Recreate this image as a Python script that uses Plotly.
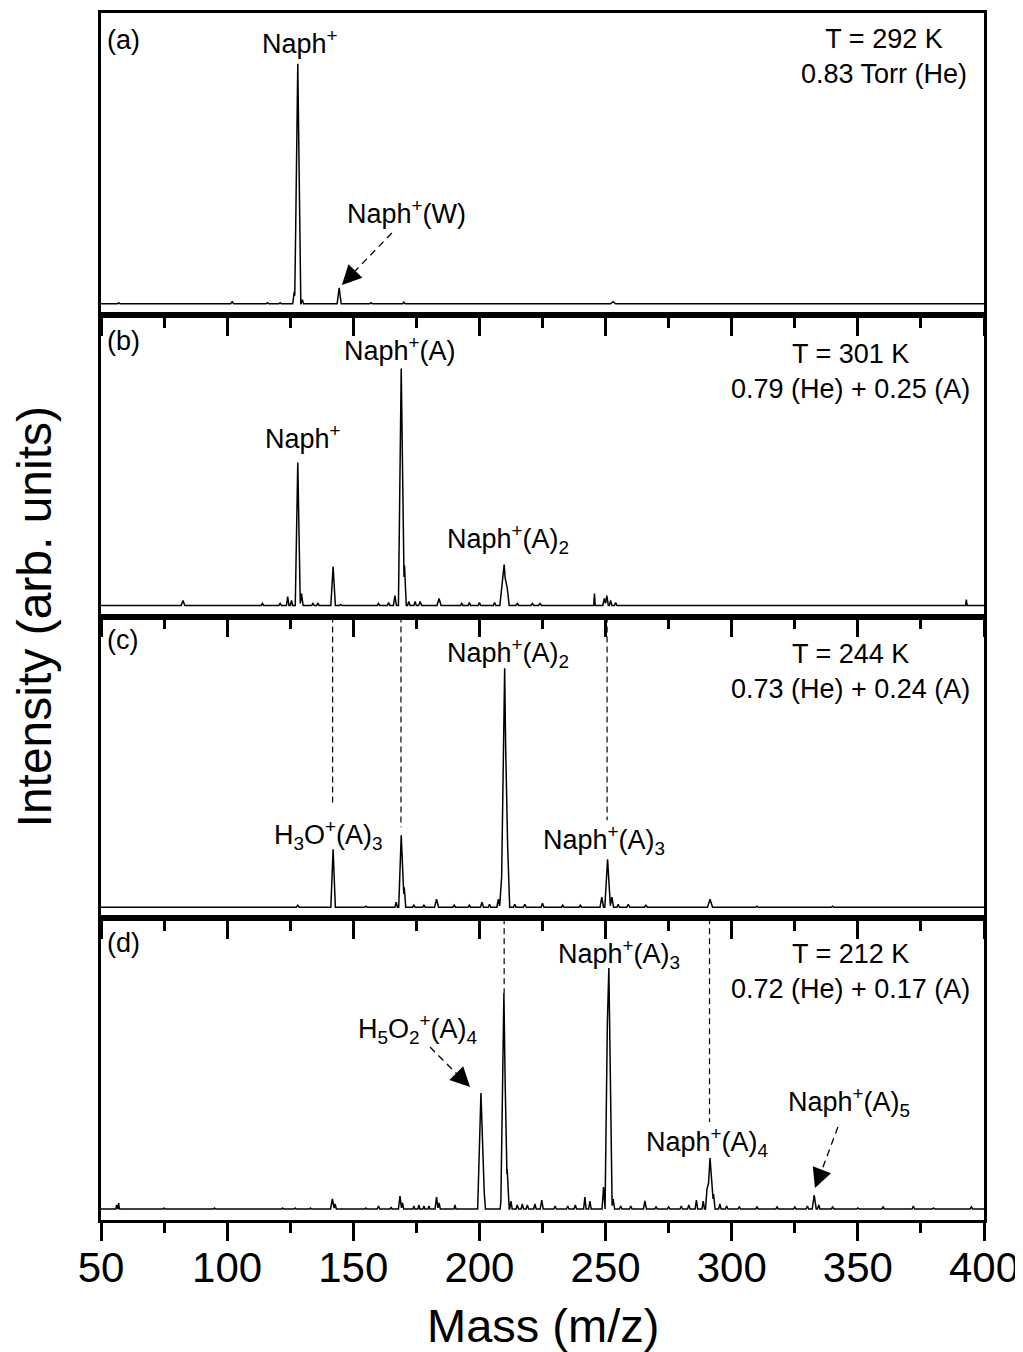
import plotly.graph_objects as go
from plotly.subplots import make_subplots

# ---------------- data ----------------
# peak centres (m/z), peak heights (arb. units), half-widths (m/z)
mz_a = [57, 102, 116, 121, 126.6, 128.0, 129.8, 144.4, 157, 170, 253]
int_a = [1, 2, 1, 1, 12, 240, 4, 16, 1, 1.5, 2]
hw_a = [0.5, 0.6, 0.5, 0.5, 0.6, 1.2, 0.5, 0.8, 0.5, 0.5, 1.0]

mz_b = [82.5, 114, 121, 124, 125.5, 128.0, 129.5, 134, 136, 142.0, 145, 160, 164,
        166.5, 169.0, 170.3, 172, 174.5, 176.5, 184, 193, 196, 200, 206, 208.8,
        209.8, 211.0, 215, 221, 224, 245.6, 249.5, 250.5, 252, 254, 393]
int_b = [5, 2, 2, 9, 5, 143, 12, 2, 2, 39, 1, 2, 3,
         10, 237, 40, 4, 4, 4, 7, 2, 3, 3, 3, 15,
         41, 18, 2, 2, 2, 12, 7, 10, 5, 3, 6]
hw_b = [0.7, 0.5, 0.5, 0.5, 0.5, 1.0, 0.6, 0.5, 0.5, 0.9, 0.5, 0.5, 0.5,
        0.6, 1.1, 0.7, 0.5, 0.5, 0.6, 0.8, 0.5, 0.5, 0.5, 0.5, 0.7,
        1.2, 0.8, 0.6, 0.6, 0.6, 0.3, 0.6, 0.6, 0.5, 0.5, 0.3]

mz_c = [128, 142.0, 155, 167, 169.0, 170.2, 174, 178, 183, 190, 196, 201, 204,
        207.5, 208.8, 210.0, 211.2, 214, 218, 225, 233, 240, 248.5, 250.8, 252.5,
        255, 259, 266, 291.4, 310, 340]
int_c = [2, 58, 1, 5, 72, 20, 2, 2, 8, 2, 2, 5, 3,
         8, 30, 239, 60, 3, 3, 4, 2, 2, 10, 48, 10,
         3, 3, 2, 8, 1, 1]
hw_c = [0.6, 0.9, 0.5, 0.5, 1.0, 0.6, 0.5, 0.5, 0.8, 0.5, 0.5, 0.6, 0.5,
        0.6, 0.8, 1.2, 0.8, 0.5, 0.6, 0.6, 0.5, 0.5, 0.7, 1.1, 0.7,
        0.5, 0.6, 0.6, 1.0, 0.5, 0.5]

mz_d = [56.2, 57, 75, 95, 122, 127, 133, 141.7, 142.8, 155, 160, 165, 168.5, 169.5,
        174, 176, 178, 180, 183, 184, 190.3, 200.6, 201.8, 208.8, 209.7, 211.0,
        212.5, 215, 217, 219, 222, 224.7, 230, 235, 238, 241.8, 243.8, 249.2,
        250.7, 251.3, 253, 256, 260, 265.6, 270, 275, 280, 283, 286, 288.7,
        290.2, 291.4, 292.8, 295.3, 298, 303, 310, 318, 325, 330, 332.7, 334.5,
        340, 350, 360, 372, 380, 395]
int_d = [4, 6, 1, 1, 1, 1, 1, 10, 5, 1, 3, 2, 13, 6,
         3, 4, 3, 3, 12, 6, 4, 116, 20, 14, 216, 40,
         8, 4, 5, 4, 5, 9, 3, 3, 4, 12, 8, 22,
         185, 241, 10, 3, 3, 8, 2, 2, 3, 4, 9, 8,
         20, 51, 15, 5, 3, 2, 2, 2, 2, 3, 14, 4,
         2, 1, 2, 3, 1, 2]
hw_d = [0.3, 0.3, 0.4, 0.4, 0.4, 0.4, 0.4, 0.7, 0.5, 0.4, 0.5, 0.4, 0.6, 0.5,
        0.4, 0.4, 0.4, 0.4, 0.6, 0.5, 0.4, 1.3, 0.6, 0.6, 1.2, 0.8,
        0.5, 0.5, 0.5, 0.5, 0.5, 0.6, 0.5, 0.5, 0.5, 0.5, 0.5, 0.6,
        0.9, 1.3, 0.6, 0.5, 0.5, 0.6, 0.5, 0.5, 0.5, 0.5, 0.5, 0.5,
        0.6, 1.2, 0.6, 0.5, 0.5, 0.5, 0.5, 0.5, 0.5, 0.5, 0.8, 0.5,
        0.5, 0.5, 0.5, 0.5, 0.5, 0.5]

x_range = [50, 400]
x_ticks = [50, 100, 150, 200, 250, 300, 350, 400]
y_range = [-11, 290.75]

FONT = "Liberation Sans, Arial, sans-serif"


def spectrum(mz, inten, hw):
    """Polyline through the listed peaks (triangular sticks on a flat baseline)."""
    xs = set(x_range)
    for c, w in zip(mz, hw):
        xs.update([c - w, c, c + w])
    xs = sorted(xs)
    ys = []
    for x in xs:
        v = 0.0
        for c, h, w in zip(mz, inten, hw):
            v = max(v, h * max(0.0, 1 - abs(x - c) / w))
        ys.append(v)
    return xs, ys


fig = make_subplots(rows=4, cols=1, shared_xaxes=True, vertical_spacing=0)

for r, (mz, it, hw) in enumerate([(mz_a, int_a, hw_a), (mz_b, int_b, hw_b),
                                   (mz_c, int_c, hw_c), (mz_d, int_d, hw_d)], start=1):
    xs, ys = spectrum(mz, it, hw)
    fig.add_trace(go.Scatter(x=xs, y=ys, mode="lines",
                             line=dict(color="black", width=1.5),
                             showlegend=False, hoverinfo="skip"), row=r, col=1)
    fig.update_xaxes(range=x_range, tickvals=x_ticks, ticks="outside", ticklen=18,
                     tickwidth=2.5, tickcolor="black", showline=True, linewidth=2.5,
                     linecolor="black", mirror=True, showgrid=False, zeroline=False,
                     automargin=False,
                     minor=dict(ticks="outside", ticklen=10, tickwidth=2.5,
                                tickcolor="black", dtick=25, tick0=50, showgrid=False),
                     row=r, col=1)
    fig.update_yaxes(range=y_range, showticklabels=False, ticks="", showline=True,
                     linewidth=2.5, linecolor="black", mirror=True, showgrid=False,
                     zeroline=False, automargin=False, row=r, col=1)

fig.update_xaxes(showticklabels=True, tickfont=dict(size=42, family=FONT, color="black"),
                 ticklabelstandoff=-9, row=4, col=1)

# ---------------- text annotations ----------------
ann = []


def txt(xref, yref, x, y, text, xanchor="center", size=27):
    ann.append(dict(xref=xref, yref=yref, x=x, y=y, text=text, showarrow=False,
                    xanchor=xanchor, yanchor="middle",
                    font=dict(size=size, family=FONT, color="black")))


# panel (a)
txt("x", "y", 51.6, 263.75, "(a)", xanchor="left")
txt("x", "y", 128.9, 261.75, "Naph<sup>+</sup>")
txt("x", "y", 170.9, 91.75, "Naph<sup>+</sup>(W)")
txt("x", "y", 360.3, 247.25, "T = 292 K<br>0.83 Torr (He)")
# panel (b)
txt("x2", "y2", 51.6, 264.5, "(b)", xanchor="left")
txt("x2", "y2", 168.5, 256.5, "Naph<sup>+</sup>(A)")
txt("x2", "y2", 130.1, 168.5, "Naph<sup>+</sup>")
txt("x2", "y2", 211.3, 66.5, "Naph<sup>+</sup>(A)<sub>2</sub>")
txt("x2", "y2", 346.9, 234.5, "T = 301 K<br>0.79 (He) + 0.25 (A)")
# panel (c)
txt("x3", "y3", 51.6, 267.25, "(c)", xanchor="left")
txt("x3", "y3", 211.3, 254.25, "Naph<sup>+</sup>(A)<sub>2</sub>")
txt("x3", "y3", 346.9, 236.25, "T = 244 K<br>0.73 (He) + 0.24 (A)")
txt("x3", "y3", 140.0, 72.25, "H<sub>3</sub>O<sup>+</sup>(A)<sub>3</sub>")
txt("x3", "y3", 249.4, 67.25, "Naph<sup>+</sup>(A)<sub>3</sub>")
# panel (d)
txt("x4", "y4", 51.6, 266, "(d)", xanchor="left")
txt("x4", "y4", 255.3, 255, "Naph<sup>+</sup>(A)<sub>3</sub>")
txt("x4", "y4", 346.9, 237.5, "T = 212 K<br>0.72 (He) + 0.17 (A)")
txt("x4", "y4", 175.6, 180, "H<sub>5</sub>O<sub>2</sub><sup>+</sup>(A)<sub>4</sub>")
txt("x4", "y4", 290.2, 67, "Naph<sup>+</sup>(A)<sub>4</sub>")
txt("x4", "y4", 346.5, 107, "Naph<sup>+</sup>(A)<sub>5</sub>")

# axis titles
ann.append(dict(xref="paper", yref="paper", x=0.5006, y=-0.087, text="Mass (m/z)",
                showarrow=False, xanchor="center", yanchor="middle",
                font=dict(size=47, family=FONT, color="black")))
ann.append(dict(xref="paper", yref="paper", x=-0.0748, y=0.5,
                text="Intensity (arb. units)", textangle=-90, showarrow=False,
                xanchor="center", yanchor="middle",
                font=dict(size=48, family=FONT, color="black")))

# arrow heads (tip at data point, short shaft)
for xr, yr, x, y, ax, ay in [("x", "y", 145.5, 18.75, 12.5, -13),
                             ("x4", "y4", 196.3, 122, -12.7, -12.7),
                             ("x4", "y4", 333.0, 21, 6.4, -16.8)]:
    ann.append(dict(xref=xr, yref=yr, x=x, y=y, ax=ax, ay=ay, text="",
                    showarrow=True, arrowhead=2, arrowsize=2.6, arrowwidth=1.5,
                    arrowcolor="black", standoff=0))

fig.update_layout(annotations=ann)

# ---------------- dashed guide lines ----------------
shapes = []
for xr, yr, x, y_end in [("x3", "y3", 141.8, 102), ("x3", "y3", 168.9, 80),
                         ("x3", "y3", 250.6, 87), ("x4", "y4", 209.8, 216),
                         ("x4", "y4", 291.2, 87)]:
    shapes.append(dict(type="line", xref=xr, yref=yr, x0=x, x1=x, y0=y_range[1], y1=y_end,
                       line=dict(color="black", width=1.2, dash="6px,4px")))
# dashed arrow shafts
for xr, yr, x0, y0, x1, y1 in [("x", "y", 165.3, 70.75, 150.7, 32.75),
                               ("x4", "y4", 180.4, 162, 191.1, 135),
                               ("x4", "y4", 342.1, 82, 335.6, 38)]:
    shapes.append(dict(type="line", xref=xr, yref=yr, x0=x0, y0=y0, x1=x1, y1=y1,
                       line=dict(color="black", width=1.3, dash="7px,5px")))

# page body has an 8 px margin: size and margins compensate for it
fig.update_layout(
    shapes=shapes,
    width=1013, height=1344,
    margin=dict(l=93, r=37, t=5, b=132, autoexpand=False),
    paper_bgcolor="white", plot_bgcolor="white",
    showlegend=False,
)

fig.write_html("out.html")
